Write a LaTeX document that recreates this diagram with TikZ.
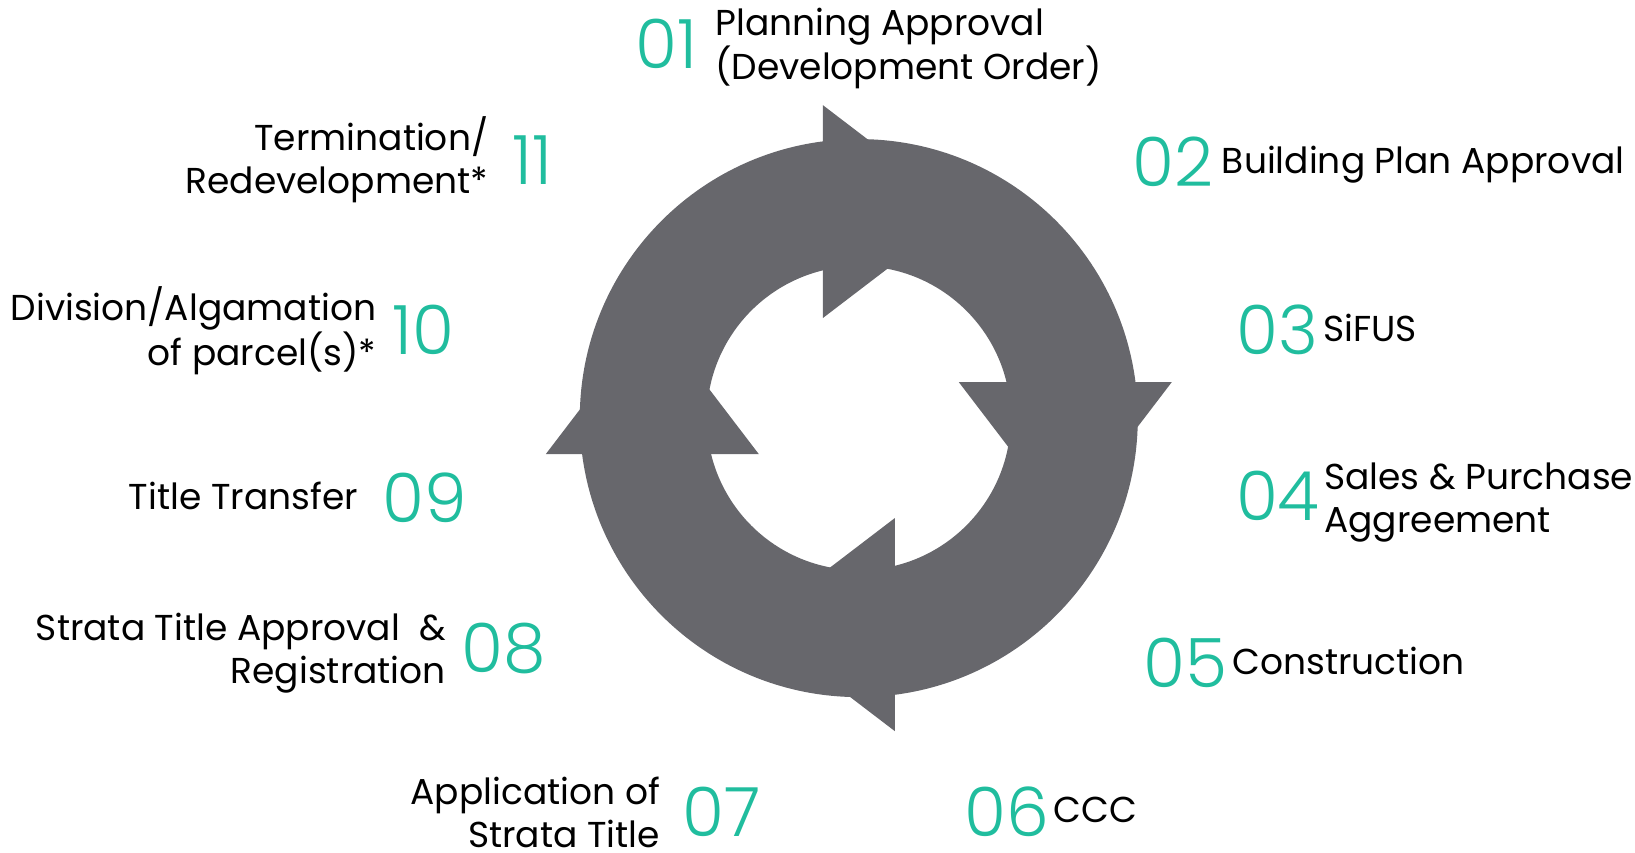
\documentclass[tikz,border=0pt]{standalone}
\usepackage{fontspec}
\setmainfont{Poppins}
\newfontfamily\numfont{Poppins Light}
\usetikzlibrary{positioning}
\definecolor{ringgray}{RGB}{103,103,108}
\definecolor{stepteal}{RGB}{32,189,158}
\tikzset{every picture/.style={line width=0.75pt}}

\begin{document}
\begin{tikzpicture}[x=1pt,y=1pt,
        num/.style={font=\numfont\fontsize{68}{68}\selectfont, text=stepteal, inner sep=0pt},
        lbl/.style={font=\fontsize{36}{43}\selectfont, inner sep=0pt, text depth=0pt},
        oneline/.style={lbl, yshift=2.5pt}]
    \useasboundingbox (-858.8,-434.9) rectangle (776.2,418.1);
    % ring with the four arrow heads
    \fill[ringgray, even odd rule] (0,0) circle[radius=279pt] (0,0) circle[radius=152pt];
    \foreach \a in {0,-90,-180,-270}
        \fill[ringgray, rotate=\a] (-36,313) -- (-36,100) -- (103.5,206.5) -- cycle;
    % step numbers
    \node[num] (n01) at (-192,374) {01};
    \node[num] (n02) at (314,256) {02};
    \node[num] (n03) at (419,88) {03};
    \node[num] (n04) at (419,-78) {04};
    \node[num] (n05) at (327,-245) {05};
    \node[num] (n06) at (148,-394) {06};
    \node[num] (n07) at (-137,-394) {07};
    \node[num] (n08) at (-355,-230) {08};
    \node[num] (n09) at (-434,-80) {09};
    \node[num] (n10) at (-435,88) {10};
    \node[num] (n11) at (-326,258) {11};
    % step labels
    \node[lbl, right=17pt of n01, align=left] (t01) {Planning Approval\\(Development Order)};
    \node[oneline, right=8pt of n02] (t02) {Building Plan Approval};
    \node[oneline, right=4pt of n03] (t03) {SiFUS};
    \node[lbl, right=4pt of n04, align=left, yshift=-1.5pt] (t04) {Sales \& Purchase\\Aggreement};
    \node[oneline, right=4pt of n05] (t05) {Construction};
    \node[oneline, right=4pt of n06] (t06) {CCC};
    \node[lbl, left=22pt of n07, align=right] (t07) {Application of\\Strata Title};
    \node[lbl, left=15pt of n08, align=right] (t08) {Strata Title Approval\ \ \&\\Registration};
    \node[oneline, left=24pt of n09] (t09) {Title Transfer};
    \node[lbl, left=16pt of n10, align=right, yshift=4pt] (t10) {Division/Algamation\\of parcel(s)*};
    \node[lbl, left=24pt of n11, align=right, yshift=5pt] (t11) {Termination/\\Redevelopment*};
\end{tikzpicture}
\end{document}
